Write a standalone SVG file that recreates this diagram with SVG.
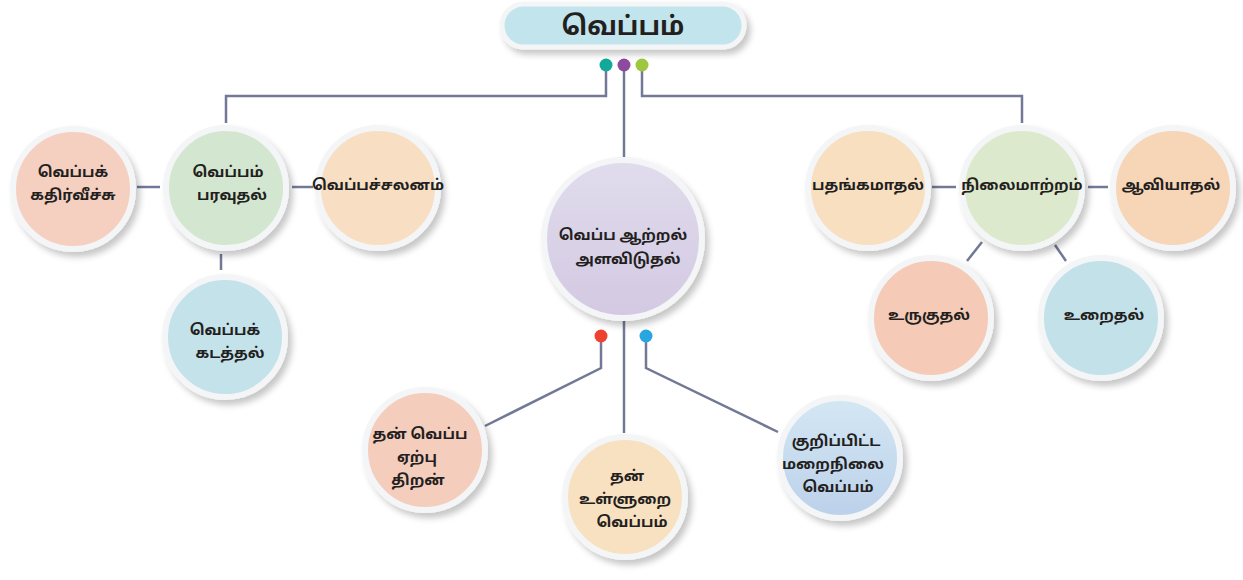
<svg xmlns="http://www.w3.org/2000/svg" width="1243" height="580" viewBox="0 0 1243 580">
<defs>
<filter id="sh" x="-20%" y="-20%" width="150%" height="150%">
<feDropShadow dx="4" dy="5" stdDeviation="3" flood-color="#000" flood-opacity="0.22"/>
</filter>
<linearGradient id="gBlue" x1="0" y1="0" x2="0" y2="1"><stop offset="0" stop-color="#d3e7f4"/><stop offset="1" stop-color="#bcd1ea"/></linearGradient>
<linearGradient id="gLav" x1="0" y1="0" x2="0" y2="1"><stop offset="0" stop-color="#e1dced"/><stop offset="1" stop-color="#d3c9e2"/></linearGradient>
</defs>
<style>
.n{stroke:#f4f5f6;stroke-width:6;filter:url(#sh)}
.t{font-family:"Noto Sans Tamil","Lohit Tamil","Latha","Noto Sans",sans-serif;font-size:15px;font-weight:bold;fill:#231f20;text-anchor:middle}
.c{fill:none;stroke:#737896;stroke-width:2.5}
</style>
<rect width="1243" height="580" fill="#fff"/>
<g id="connectors">
<polyline class="c" points="606,66 606,96 226,96 226,123"/>
<line class="c" x1="624" y1="66" x2="624" y2="158"/>
<polyline class="c" points="642,66 642,96 1022,96 1022,123"/>
<line class="c" x1="137" y1="187" x2="160" y2="187"/>
<line class="c" x1="292" y1="187" x2="313" y2="187"/>
<line class="c" x1="221" y1="254" x2="221" y2="270"/>
<line class="c" x1="932" y1="187" x2="956" y2="187"/>
<line class="c" x1="1088" y1="187" x2="1108" y2="187"/>
<line class="c" x1="982" y1="242" x2="967" y2="261"/>
<line class="c" x1="1055" y1="245" x2="1066" y2="261"/>
<polyline class="c" points="601,336 601,368 485,426"/>
<line class="c" x1="624" y1="320" x2="624" y2="433"/>
<polyline class="c" points="646,336 646,368 778,432"/>
<circle cx="606" cy="65" r="6.5" fill="#12a89a"/>
<circle cx="624" cy="65" r="6.5" fill="#8e4a9f"/>
<circle cx="642" cy="65" r="6.5" fill="#9cc73f"/>
<circle cx="601" cy="336" r="6.5" fill="#ee4130"/>
<circle cx="646" cy="336" r="6.5" fill="#28a6e2"/>
</g>
<g id="title">
<rect x="502" y="4" width="242" height="43" rx="21.5" fill="#c2e4ec" stroke="#f4f5f6" stroke-width="5" filter="url(#sh)"/>
<text x="623" y="35" class="t" style="font-size:26px">வெப்பம்</text>
</g>
<g id="n-kathir">
<circle class="n" cx="73" cy="189" r="60" fill="#f5cfc0"/>
<text class="t" x="73" y="177">வெப்பக்</text>
<text class="t" x="73" y="200">கதிர்வீச்சு</text>
</g>
<g id="n-paravu">
<circle class="n" cx="226" cy="188" r="60" fill="#d3e6cf"/>
<text class="t" x="228" y="177">வெப்பம்</text>
<text class="t" x="232" y="200">பரவுதல்</text>
</g>
<g id="n-salanam">
<circle class="n" cx="378" cy="188" r="60" fill="#f8dfc3"/>
<text class="t" x="378" y="190">வெப்பச்சலனம்</text>
</g>
<g id="n-kadathal">
<circle class="n" cx="225" cy="337" r="60" fill="#c4e2ea"/>
<text class="t" x="225" y="335">வெப்பக்</text>
<text class="t" x="230" y="358">கடத்தல்</text>
</g>
<g id="n-center">
<circle class="n" cx="623" cy="239" r="79" fill="url(#gLav)"/>
<text class="t" x="623" y="240">வெப்ப  ஆற்றல்</text>
<text class="t" x="628" y="264">அளவிடுதல்</text>
</g>
<g id="n-pathangam">
<circle class="n" cx="868" cy="188" r="60" fill="#f8dfc0"/>
<text class="t" x="868" y="190">பதங்கமாதல்</text>
</g>
<g id="n-nilai">
<circle class="n" cx="1022" cy="188" r="60" fill="#dde9cc"/>
<text class="t" x="1022" y="190">நிலைமாற்றம்</text>
</g>
<g id="n-aavi">
<circle class="n" cx="1173" cy="188" r="60" fill="#f7d5b7"/>
<text class="t" x="1171" y="190">ஆவியாதல்</text>
</g>
<g id="n-uruku">
<circle class="n" cx="931" cy="318" r="60" fill="#f5cbb8"/>
<text class="t" x="929" y="320">உருகுதல்</text>
</g>
<g id="n-uraithal">
<circle class="n" cx="1101" cy="318" r="60" fill="#c3e1e9"/>
<text class="t" x="1104" y="320">உறைதல்</text>
</g>
<g id="n-thanvep">
<circle class="n" cx="425" cy="450" r="60" fill="#f5cdbd"/>
<text class="t" x="420" y="439">தன்  வெப்ப</text>
<text class="t" x="417" y="462">ஏற்பு</text>
<text class="t" x="418" y="485">திறன்</text>
</g>
<g id="n-ulluRai">
<circle class="n" cx="625" cy="497" r="60" fill="#f8e1c0"/>
<text class="t" x="627" y="481">தன்</text>
<text class="t" x="625" y="504">உள்ளுறை</text>
<text class="t" x="632" y="527">வெப்பம்</text>
</g>
<g id="n-kurippitta">
<circle class="n" cx="840" cy="458" r="60" fill="url(#gBlue)"/>
<text class="t" x="836" y="446">குறிப்பிட்ட</text>
<text class="t" x="833" y="469">மறைநிலை</text>
<text class="t" x="838" y="492">வெப்பம்</text>
</g>
</svg>
